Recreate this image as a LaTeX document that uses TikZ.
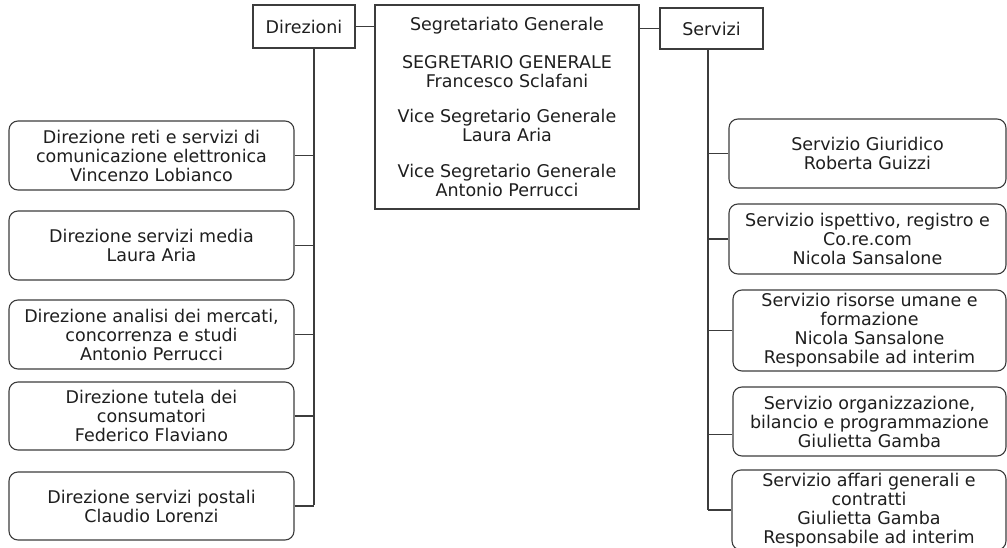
\documentclass[tikz,border=0pt]{standalone}
\usepackage{fontspec}
\setmainfont{DejaVu Sans}
\usepackage{xcolor}
\definecolor{linea}{HTML}{3C3C3C}
\definecolor{testo}{HTML}{1E1E1E}

\begin{document}
\begin{tikzpicture}[x=1pt, y=-1pt,
    box/.style={draw=linea, line width=1.1pt, align=center, inner sep=0pt, text=testo,
        font=\fontsize{17.5}{19}\selectfont},
    tondo/.style={box, rounded corners=9pt}]
\useasboundingbox (0,0) rectangle (1007,548);
\node[box, minimum width=102, minimum height=43] (dir) at (304,26.5) {Direzioni};
\node[box, minimum width=264, minimum height=204] (sg) at (507,107) {Segretariato Generale\\[19pt]
    SEGRETARIO GENERALE\\Francesco Sclafani\\[16pt]
    Vice Segretario Generale\\Laura Aria\\[17pt]
    Vice Segretario Generale\\Antonio Perrucci};
\node[box, minimum width=103, minimum height=41] (srv) at (711.5,28.5) {Servizi};
\draw[linea, line width=1.1pt] (dir.east) -- (dir.east -| sg.west);
\draw[linea, line width=1.1pt] (srv.west) -- (srv.west -| sg.east);

\node[tondo, minimum width=285, minimum height=69] (d1) at (151.5,155.5)
    {Direzione reti e servizi di\\comunicazione elettronica\\Vincenzo Lobianco};
\node[tondo, minimum width=285, minimum height=69] (d2) at (151.5,245.5)
    {Direzione servizi media\\Laura Aria};
\node[tondo, minimum width=285, minimum height=69] (d3) at (151.5,334.5)
    {Direzione analisi dei mercati,\\concorrenza e studi\\Antonio Perrucci};
\node[tondo, minimum width=285, minimum height=68] (d4) at (151.5,416)
    {Direzione tutela dei\\consumatori\\Federico Flaviano};
\node[tondo, minimum width=285, minimum height=68] (d5) at (151.5,506)
    {Direzione servizi postali\\Claudio Lorenzi};

\node[tondo, minimum width=277, minimum height=69] (s1) at (867.5,153.5)
    {Servizio Giuridico\\Roberta Guizzi};
\node[tondo, minimum width=277, minimum height=70] (s2) at (867.5,239)
    {Servizio ispettivo, registro e\\Co.re.com\\Nicola Sansalone};
\node[tondo, minimum width=273, minimum height=81] (s3) at (869.5,330.5)
    {Servizio risorse umane e\\formazione\\Nicola Sansalone\\Responsabile ad interim};
\node[tondo, minimum width=273, minimum height=69] (s4) at (869.5,421.5)
    {Servizio organizzazione,\\bilancio e programmazione\\Giulietta Gamba};
\node[tondo, minimum width=274, minimum height=80] (s5) at (869,510)
    {Servizio affari generali e\\contratti\\Giulietta Gamba\\Responsabile ad interim};

\coordinate (lt) at (314,48);
\coordinate (lb) at (314,505);
\coordinate (rt) at (708,49);
\coordinate (rb) at (708,510);
\draw[linea, line width=1.1pt] (lt) -- (lb);
\draw[linea, line width=1.1pt] (rt) -- (rb);
\foreach \n in {d1,d2,d3,d4,d5}
    \draw[linea, line width=1.1pt] (\n.east) -- (\n.east -| lt);
\foreach \n in {s1,s2,s3,s5}
    \draw[linea, line width=1.1pt] (\n.west) -- (\n.west -| rt);
\draw[linea, line width=1.1pt] ([yshift=-13pt]s4.west) -- ([yshift=-13pt]s4.west -| rt);
\end{tikzpicture}
\end{document}
